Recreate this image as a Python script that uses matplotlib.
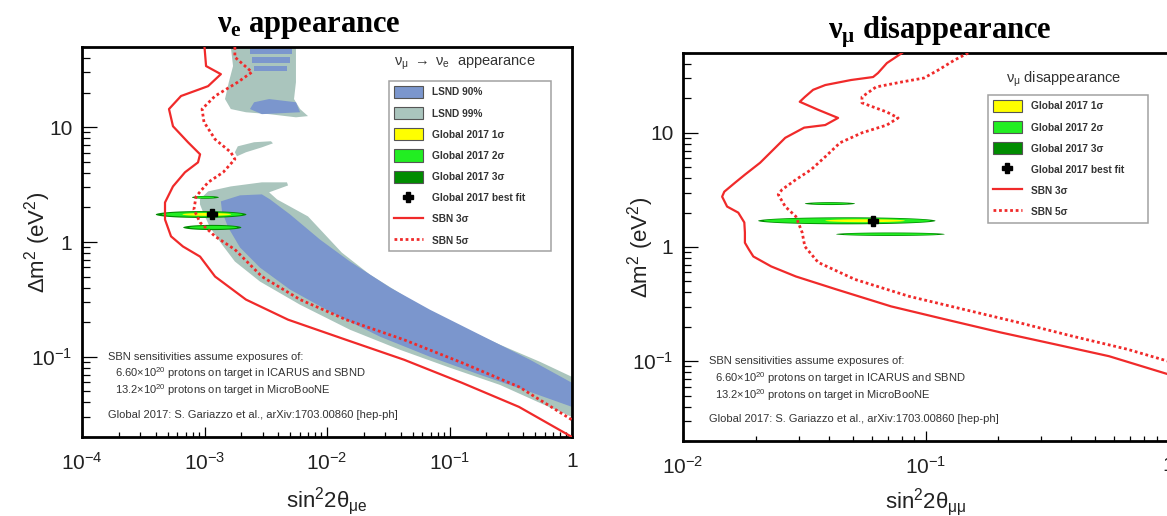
import numpy as np
import matplotlib
matplotlib.use("Agg")
import matplotlib.pyplot as plt
from matplotlib.patches import Patch
from matplotlib.lines import Line2D
from matplotlib.ticker import FixedLocator, LogLocator, NullFormatter

plt.rcParams["font.family"] = ["Liberation Sans", "DejaVu Sans"]
plt.rcParams["mathtext.fontset"] = "custom"
plt.rcParams["mathtext.rm"] = "Liberation Sans"
plt.rcParams["mathtext.it"] = "Liberation Sans:italic"
plt.rcParams["mathtext.bf"] = "Liberation Sans:bold"
plt.rcParams["mathtext.default"] = "regular"

# ---------------------------------------------------------------- nu_e appearance
APP_XLIM = (1e-4, 1.0)
DM2_LIM = (0.02, 50.0)
APP_XTICKS = [1e-4, 1e-3, 1e-2, 1e-1, 1.0]
APP_XTICKLABELS = [r"$10^{-4}$", r"$10^{-3}$", r"$10^{-2}$", r"$10^{-1}$", "1"]
DM2_TICKS = [0.1, 1.0, 10.0]
DM2_TICKLABELS = [r"$10^{-1}$", "1", "10"]

# SBN 3 sigma / 5 sigma sensitivity, appearance channel
APP_SBN3_S2 = [1.0e-3, 1.03e-3, 1.36e-3, 1.07e-3, 6.43e-4, 5.13e-4, 5.53e-4, 7.33e-4,
               9.2e-4, 8.85e-4, 6.93e-4, 5.53e-4, 4.76e-4, 4.76e-4, 5.33e-4, 6.67e-4,
               9.2e-4, 1.22e-3, 2.18e-3, 4.81e-3, 1.43e-2, 4.26e-2, 0.1265, 0.369, 1.0]
APP_SBN3_DM2 = [50.0, 34.1, 29.0, 22.8, 18.7, 14.4, 10.2, 7.40,
                5.81, 4.94, 4.05, 3.05, 2.21, 1.57, 1.12, 0.914,
                0.746, 0.500, 0.315, 0.2105, 0.1406, 0.0942, 0.0593, 0.0366, 0.020]
APP_SBN5_S2 = [1.77e-3, 1.77e-3, 2.44e-3, 1.87e-3, 1.22e-3, 9.55e-4, 9.9e-4, 1.22e-3,
               1.64e-3, 1.77e-3, 1.42e-3, 1.07e-3, 8.53e-4, 8.2e-4, 9.2e-4, 1.22e-3,
               1.77e-3, 2.94e-3, 6.03e-3, 1.43e-2, 4.26e-2, 0.1265, 0.369, 1.0]
APP_SBN5_DM2 = [50.0, 40.8, 30.2, 24.7, 18.7, 14.4, 11.1, 7.85,
                6.05, 5.26, 4.05, 3.31, 2.49, 1.92, 1.48, 1.12,
                0.86, 0.50, 0.315, 0.2105, 0.1406, 0.0887, 0.0547, 0.0282]

# LSND allowed regions
LSND99_MAIN_S2 = [9.18e-4, 1.07e-3, 1.64e-3, 2.94e-3, 4.71e-3, 4.81e-3, 3.37e-3, 3.91e-3,
                  7.0e-3, 1.32e-2, 2.24e-2, 4.76e-2, 0.101, 0.258, 0.548, 1.0,
                  1.0, 0.548, 0.258, 0.101, 3.94e-2, 1.54e-2, 6.03e-3, 2.84e-3,
                  1.77e-3, 1.39e-3, 1.11e-3, 9.9e-4, 9.18e-4]
LSND99_MAIN_DM2 = [2.35, 2.76, 3.05, 3.31, 3.31, 3.11, 2.71, 2.35,
                   1.67, 0.809, 0.52, 0.315, 0.202, 0.1274, 0.0904, 0.0668,
                   0.0299, 0.0396, 0.0569, 0.0802, 0.1151, 0.172, 0.284, 0.452,
                   0.676, 0.95, 1.34, 1.74, 2.13]
LSND99_TOP_S2 = [1.64e-3, 1.71e-3, 1.58e-3, 1.47e-3, 1.64e-3, 2.18e-3, 3.37e-3,
                 5.58e-3, 7.0e-3, 6.03e-3, 5.38e-3, 5.58e-3, 5.58e-3]
LSND99_TOP_DM2 = [50.0, 34.1, 24.7, 17.6, 14.4, 13.5, 13.0,
                  12.2, 12.5, 14.4, 17.6, 24.7, 50.0]
LSND99_ISLAND_S2 = [1.77e-3, 1.87e-3, 2.54e-3, 3.49e-3, 3.62e-3, 2.94e-3, 2.18e-3, 1.84e-3]
LSND99_ISLAND_DM2 = [6.05, 6.82, 7.40, 7.55, 7.24, 6.68, 6.05, 5.58]

LSND90_MAIN_S2 = [1.36e-3, 1.95e-3, 2.94e-3, 3.43e-3, 4.99e-3, 8.77e-3, 1.54e-2, 3.27e-2,
                  6.93e-2, 0.177, 0.454, 1.0, 1.0, 0.454, 0.177, 6.93e-2,
                  2.71e-2, 1.06e-2, 4.99e-3, 2.84e-3, 1.95e-3, 1.56e-3, 1.39e-3]
LSND90_MAIN_DM2 = [2.26, 2.55, 2.60, 2.35, 1.74, 1.05, 0.676, 0.401,
                   0.257, 0.1556, 0.0942, 0.0593, 0.0366, 0.0494, 0.0697, 0.1,
                   0.1496, 0.247, 0.385, 0.598, 0.895, 1.34, 1.85]
LSND90_MID_S2 = [2.54e-3, 2.35e-3, 2.94e-3, 6.03e-3, 5.58e-3, 3.37e-3]
LSND90_MID_DM2 = [16.5, 14.4, 13.0, 13.5, 16.5, 17.6]
# horizontal streaks near the top of the plot: (s2 low, s2 high, dm2 low, dm2 high)
LSND90_STREAKS = [(2.35e-3, 5.18e-3, 43.5, 50.0),
                  (2.44e-3, 5.0e-3, 36.2, 40.8),
                  (2.54e-3, 4.71e-3, 30.8, 34.1)]

# Global 2017 allowed islands: (s2 low, s2 high, dm2 low, dm2 high)
APP_GLOBAL_3SIG = [(4.0e-4, 2.2e-3, 1.62, 1.86),
                   (7.9e-4, 1.31e-3, 2.38, 2.52),
                   (6.7e-4, 2.0e-3, 1.27, 1.41)]
APP_GLOBAL_2SIG = [(4.5e-4, 2.05e-3, 1.66, 1.82),
                   (8.5e-4, 1.2e-3, 2.41, 2.49),
                   (7.5e-4, 1.85e-3, 1.30, 1.38)]
APP_GLOBAL_1SIG = [(6.6e-4, 1.65e-3, 1.69, 1.79)]
APP_BEST_FIT = (1.15e-3, 1.74)

# ---------------------------------------------------------------- nu_mu disappearance
DIS_XLIM = (1e-2, 1.0)
DIS_XTICKS = [1e-2, 1e-1, 1.0]
DIS_XTICKLABELS = [r"$10^{-2}$", r"$10^{-1}$", "1"]

DIS_SBN3_S2 = [0.08, 0.0693, 0.0637, 0.0608, 0.0493, 0.0386, 0.0344, 0.0318,
               0.0303, 0.0361, 0.0436, 0.0386, 0.0316, 0.0264, 0.0231, 0.0208,
               0.0180, 0.0164, 0.0148, 0.0145, 0.0152, 0.0169, 0.0179, 0.0180,
               0.0180, 0.0187, 0.0195, 0.0231, 0.0292, 0.0428, 0.0721, 0.120,
               0.203, 0.342, 0.571, 1.0]
DIS_SBN3_DM2 = [50.0, 40.8, 33.4, 30.8, 29.0, 26.2, 23.8, 20.6,
                18.7, 15.9, 13.5, 11.7, 11.1, 9.04, 6.82, 5.47,
                4.30, 3.66, 3.05, 2.76, 2.26, 2.0, 1.64, 1.34,
                1.09, 0.95, 0.826, 0.676, 0.552, 0.426, 0.302, 0.233,
                0.179, 0.1406, 0.1106, 0.0769]
DIS_SBN5_S2 = [0.15, 0.132, 0.113, 0.0986, 0.080, 0.0625, 0.0547, 0.0547,
               0.0693, 0.0771, 0.0693, 0.0547, 0.0444, 0.0386, 0.0337, 0.0292,
               0.0256, 0.0247, 0.0264, 0.0292, 0.031, 0.0318, 0.0361, 0.0512,
               0.0855, 0.144, 0.240, 0.406, 0.678, 1.0]
DIS_SBN5_DM2 = [50.0, 43.5, 35.5, 30.2, 27.9, 25.2, 20.6, 18.3,
                15.2, 13.5, 11.7, 10.0, 8.18, 6.17, 4.75, 3.89,
                3.18, 2.88, 2.26, 1.85, 1.34, 1.01, 0.733, 0.52,
                0.37, 0.284, 0.219, 0.165, 0.1274, 0.100]

DIS_GLOBAL_3SIG = [(0.0204, 0.110, 1.58, 1.82),
                   (0.0318, 0.0512, 2.33, 2.47),
                   (0.0428, 0.120, 1.25, 1.34)]
DIS_GLOBAL_2SIG = [(0.0215, 0.105, 1.61, 1.79),
                   (0.034, 0.048, 2.37, 2.43),
                   (0.046, 0.112, 1.27, 1.32)]
DIS_GLOBAL_1SIG = [(0.0386, 0.0822, 1.65, 1.75)]
DIS_BEST_FIT = (0.0608, 1.70)

EXPOSURE_NOTE = [
    "SBN sensitivities assume exposures of:",
    r"6.60$\times$10$^{20}$ protons on target in ICARUS and SBND",
    r"13.2$\times$10$^{20}$ protons on target in MicroBooNE",
    "Global 2017: S. Gariazzo et al., arXiv:1703.00860 [hep-ph]",
]

LSND90_COLOR = "#7b96cd"
LSND99_COLOR = "#aac5bd"
SIG1_COLOR = "#ffff00"
SIG2_COLOR = "#22ee22"
SIG3_COLOR = "#008c00"
SBN_COLOR = "#f02a2a"


def log_ellipse(s2_lo, s2_hi, dm2_lo, dm2_hi, n=90):
    """Thin island, elliptical in log-log space."""
    t = np.linspace(0, 2 * np.pi, n)
    lx0, lx1 = np.log10(s2_lo), np.log10(s2_hi)
    ly0, ly1 = np.log10(dm2_lo), np.log10(dm2_hi)
    lx = 0.5 * (lx0 + lx1) + 0.5 * (lx1 - lx0) * np.cos(t)
    ly = 0.5 * (ly0 + ly1) + 0.5 * (ly1 - ly0) * np.sin(t)
    return 10 ** lx, 10 ** ly


def draw_global(ax, sig3, sig2, sig1, best):
    for box in sig3:
        ax.fill(*log_ellipse(*box), color=SIG3_COLOR, lw=0, zorder=3)
    for box in sig2:
        ax.fill(*log_ellipse(*box), color=SIG2_COLOR, lw=0, zorder=3)
    for box in sig1:
        ax.fill(*log_ellipse(*box), color=SIG1_COLOR, lw=0, zorder=3)
    ax.plot(*best, marker="P", color="black", ms=7, zorder=6)


def style_axes(ax, xlim, xticks, xticklabels):
    ax.set_xscale("log")
    ax.set_yscale("log")
    ax.set_xlim(*xlim)
    ax.set_ylim(*DM2_LIM)
    ax.xaxis.set_major_locator(FixedLocator(xticks))
    ax.set_xticklabels(xticklabels)
    ax.yaxis.set_major_locator(FixedLocator(DM2_TICKS))
    ax.set_yticklabels(DM2_TICKLABELS)
    for axis in (ax.xaxis, ax.yaxis):
        axis.set_minor_locator(LogLocator(base=10, subs=np.arange(2, 10)))
        axis.set_minor_formatter(NullFormatter())
    ax.tick_params(axis="both", which="both", direction="in", top=False, right=False,
                   colors="black", labelcolor="#222222", labelsize=15, width=0.9)
    ax.tick_params(axis="x", which="major", length=7, pad=11)
    ax.tick_params(axis="x", which="minor", length=3.6)
    ax.tick_params(axis="y", which="major", length=11, pad=7)
    ax.tick_params(axis="y", which="minor", length=6)
    for sp in ax.spines.values():
        sp.set_linewidth(2.0)
    ax.set_ylabel(r"$\Delta$m$^2$ (eV$^2$)", fontsize=16, color="#222222")
    note_x = [0.053, 0.067, 0.067, 0.053]
    note_y = [0.205, 0.163, 0.119, 0.056]
    for line, x, y in zip(EXPOSURE_NOTE, note_x, note_y):
        ax.text(x, y, line, transform=ax.transAxes, fontsize=8.0, color="#333333",
                ha="left", va="center", zorder=7)


def add_legend(ax, handles, bbox, title, title_xy):
    leg = ax.legend(handles=handles, loc="upper left", bbox_to_anchor=bbox, mode="expand",
                    borderaxespad=0, frameon=True, fancybox=False, edgecolor="#8a8a8a",
                    prop={"weight": "bold", "size": 7.3}, labelcolor="#333333",
                    handlelength=2.8, handleheight=1.45, labelspacing=0.9,
                    handletextpad=0.9, borderpad=0.5)
    leg.get_frame().set_linewidth(1.1)
    leg.set_zorder(8)
    ax.text(*title_xy, title, transform=ax.transAxes, ha="center", va="center",
            fontsize=10.5, color="#333333", zorder=8)


def global_handles():
    return [
        Patch(facecolor=SIG1_COLOR, edgecolor="#555555", lw=0.8, label="Global 2017 1σ"),
        Patch(facecolor=SIG2_COLOR, edgecolor="#555555", lw=0.8, label="Global 2017 2σ"),
        Patch(facecolor=SIG3_COLOR, edgecolor="#555555", lw=0.8, label="Global 2017 3σ"),
        Line2D([], [], ls="none", marker="P", color="black", ms=7, label="Global 2017 best fit"),
        Line2D([], [], color=SBN_COLOR, lw=1.6, label="SBN 3σ"),
        Line2D([], [], color=SBN_COLOR, lw=2.0, ls=(0, (1, 1)), label="SBN 5σ"),
    ]


fig = plt.figure(figsize=(11.67, 5.16), dpi=100)
ax_app = fig.add_axes([82 / 1167, 1 - 437 / 516, 490 / 1167, 390 / 516])
ax_dis = fig.add_axes([683 / 1167, 1 - 441 / 516, 485 / 1167, 388 / 516])

# appearance panel
ax = ax_app
ax.fill(LSND99_MAIN_S2, LSND99_MAIN_DM2, color=LSND99_COLOR, lw=0, zorder=1)
ax.fill(LSND99_TOP_S2, LSND99_TOP_DM2, color=LSND99_COLOR, lw=0, zorder=1)
ax.fill(LSND99_ISLAND_S2, LSND99_ISLAND_DM2, color=LSND99_COLOR, lw=0, zorder=1)
ax.fill(LSND90_MAIN_S2, LSND90_MAIN_DM2, color=LSND90_COLOR, lw=0, zorder=2)
ax.fill(LSND90_MID_S2, LSND90_MID_DM2, color=LSND90_COLOR, lw=0, zorder=2)
for s_lo, s_hi, d_lo, d_hi in LSND90_STREAKS:
    ax.fill_between([s_lo, s_hi], d_lo, d_hi, color=LSND90_COLOR, lw=0, zorder=2)
draw_global(ax, APP_GLOBAL_3SIG, APP_GLOBAL_2SIG, APP_GLOBAL_1SIG, APP_BEST_FIT)
ax.plot(APP_SBN3_S2, APP_SBN3_DM2, color=SBN_COLOR, lw=1.6, zorder=5)
ax.plot(APP_SBN5_S2, APP_SBN5_DM2, color=SBN_COLOR, lw=2.0, ls=(0, (1, 1)), zorder=5)
style_axes(ax, APP_XLIM, APP_XTICKS, APP_XTICKLABELS)
ax.yaxis.set_label_coords(-0.06, 0.5)
ax.set_xlabel(r"sin$^2$2$\theta_{\mu e}$", fontsize=16, color="#222222", va="top")
ax.xaxis.set_label_coords(0.5, -0.122)
lsnd_handles = [
    Patch(facecolor=LSND90_COLOR, edgecolor="#555555", lw=0.8, label="LSND 90%"),
    Patch(facecolor=LSND99_COLOR, edgecolor="#555555", lw=0.8, label="LSND 99%"),
]
add_legend(ax, lsnd_handles + global_handles(), (0.627, 0.477, 0.33, 0.436),
           r"$\nu_\mu$ $\rightarrow$ $\nu_e$  appearance", (0.782, 0.959))

# disappearance panel
ax = ax_dis
draw_global(ax, DIS_GLOBAL_3SIG, DIS_GLOBAL_2SIG, DIS_GLOBAL_1SIG, DIS_BEST_FIT)
ax.plot(DIS_SBN3_S2, DIS_SBN3_DM2, color=SBN_COLOR, lw=1.6, zorder=5)
ax.plot(DIS_SBN5_S2, DIS_SBN5_DM2, color=SBN_COLOR, lw=2.0, ls=(0, (1, 1)), zorder=5)
style_axes(ax, DIS_XLIM, DIS_XTICKS, DIS_XTICKLABELS)
ax.spines["right"].set_visible(False)
ax.set_xlabel(r"sin$^2$2$\theta_{\mu\mu}$", fontsize=16, color="#222222", va="top")
ax.xaxis.set_label_coords(0.5, -0.115)
ax.yaxis.set_label_coords(-0.055, 0.5)
add_legend(ax, global_handles(), (0.629, 0.570, 0.33, 0.322),
           r"$\nu_\mu$ disappearance", (0.784, 0.933))

title_font = {"family": "Liberation Serif", "weight": "bold", "size": 22}
fig.text(309 / 1167, 1 - 32 / 516, r"$\nu_e$ appearance", ha="center", va="baseline",
         fontdict=title_font)
fig.text(940 / 1167, 1 - 39 / 516, r"$\nu_\mu$ disappearance", ha="center", va="baseline",
         fontdict=title_font)

fig.savefig("out.png", dpi=100)
